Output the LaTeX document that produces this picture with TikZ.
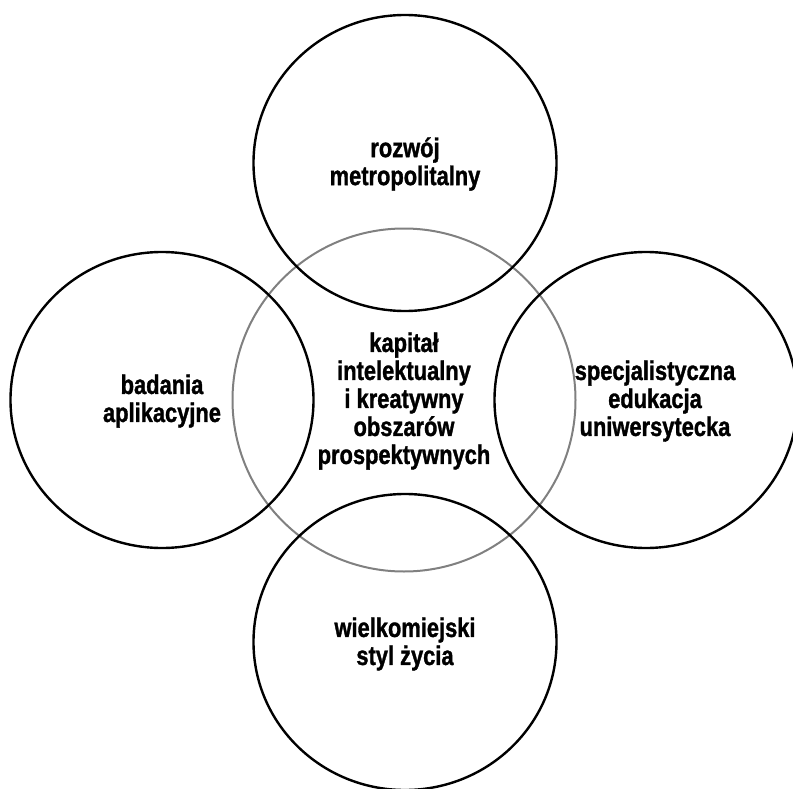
\documentclass[tikz,border=0pt]{standalone}
\usepackage{fontspec}
\setmainfont{Liberation Sans}[FakeStretch=0.81, BoldFont={Liberation Sans Bold}, BoldFeatures={FakeStretch=0.81, FakeBold=1.2}]
\usetikzlibrary{shapes.geometric}
\begin{document}
\begin{tikzpicture}[x=1pt,y=-1pt,
  ring/.style={draw=black, line width=2.4pt, ellipse, minimum width=303pt, minimum height=296pt, inner sep=0pt},
  core/.style={draw=black!50, line width=2pt, circle, minimum size=343pt, inner sep=0pt},
  lbl/.style={font=\fontsize{27}{28}\selectfont\bfseries, align=center, inner sep=0pt, text=black}]
\useasboundingbox (0,0) rectangle (793,789);
\node[core] (c) at (404,400) {};
\node[ring] (t) at (405,163) {};
\node[ring] (l) at (162,400) {};
\node[ring] (r) at (646,400) {};
\node[ring] (b) at (405,642) {};
\node[lbl] (tc) at (404,401) {kapitał\\intelektualny\\i kreatywny\\obszarów\\prospektywnych};
\node[lbl] (tt) at (405,164) {rozwój\\metropolitalny};
\node[lbl] (tl) at (162,401) {badania\\aplikacyjne};
\node[lbl] (tr) at (655,401) {specjalistyczna\\edukacja\\uniwersytecka};
\node[lbl] (tb) at (405,644) {wielkomiejski\\styl życia};
\end{tikzpicture}
\end{document}
